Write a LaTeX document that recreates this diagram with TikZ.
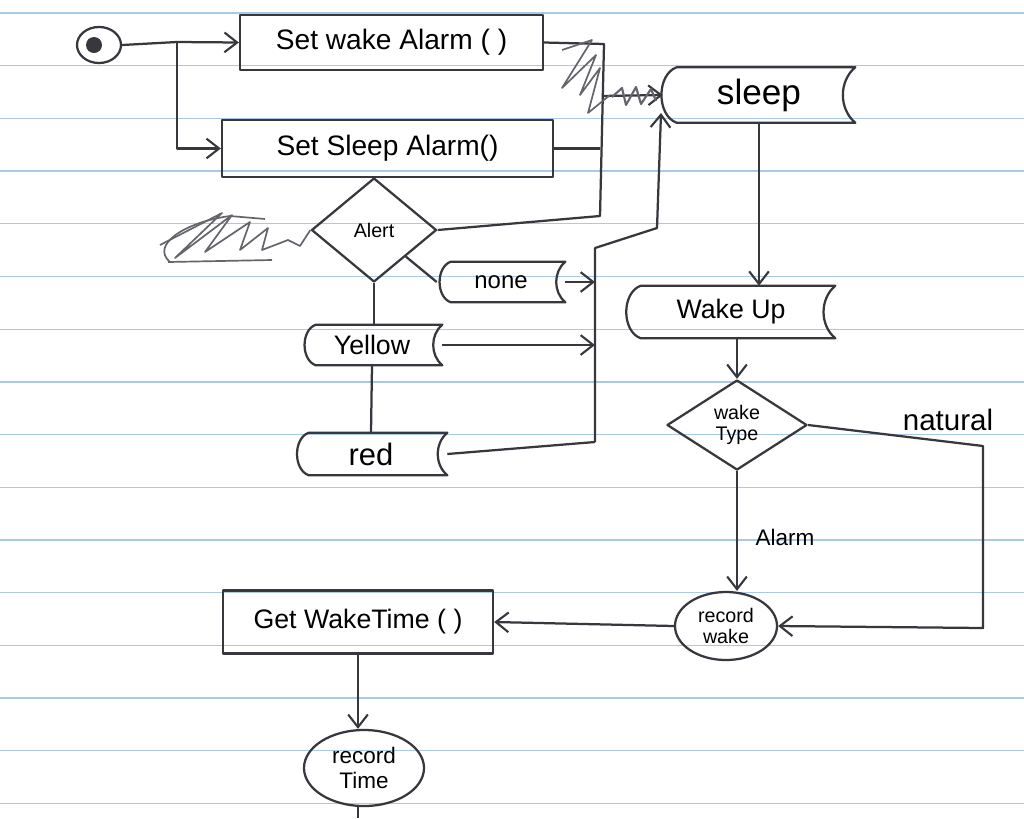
\documentclass[tikz,border=0pt]{standalone}
\usepackage{fontspec}
\setmainfont{Liberation Sans}
\usetikzlibrary{shapes.geometric,arrows.meta}

\definecolor{inkc}{RGB}{55,55,62}
\definecolor{scrawl}{RGB}{100,100,108}
\definecolor{ruled}{RGB}{170,200,232}

\tikzset{
    ink/.style={draw=inkc, line width=1.6pt, line join=round},
    arrow/.style={ink, -{Straight Barb[length=9pt,width=14pt,line width=1.5pt]}},
    procbox/.style={ink, rectangle, inner sep=0pt, font=\fontsize{20}{24}\selectfont},
    banner/.style={inner sep=0pt, text=black, font=\fontsize{19}{22}\selectfont},
    decision/.style={ink, diamond, inner sep=0pt, align=center, font=\fontsize{14}{15}\selectfont},
    bubble/.style={ink, ellipse, inner sep=0pt, align=center, font=\fontsize{14}{15}\selectfont},
    scribble/.style={draw=scrawl, line width=1.2pt, line join=round}
}

\newcommand{\banneroutline}[1]{%
    \draw[ink] ([xshift=0.35cm]#1.north west) -- (#1.north east)
        to[bend right=50] (#1.south east) -- ([xshift=0.35cm]#1.south west)
        to[bend left=70] ([xshift=0.35cm]#1.north west);}

\begin{document}
\begin{tikzpicture}[x=0.025cm, y=-0.025cm]
    \useasboundingbox (0,0) rectangle (1024,818);
    \fill[white] (0,0) rectangle (1024,818);
    \foreach \k [evaluate=\k as \yy using 13+52.7*\k] in {0,...,15}
        \draw[draw=ruled, line width=0.9pt] (0,\yy) -- (1024,\yy);

    \node[ink, ellipse, minimum width=1.1cm, minimum height=0.9cm, inner sep=0pt] (start) at (99,45) {};
    \node[circle, fill=inkc, minimum size=0.4cm, inner sep=0pt] (startdot) at (94,45) {};
    \coordinate (split) at (177,42);

    \node[procbox, minimum width=7.575cm, minimum height=1.375cm] (setwake) at (391.5,42.5) {Set wake Alarm ( )};
    \node[procbox, minimum width=8.275cm, minimum height=1.425cm] (setsleep) at (387.5,148.5) {Set Sleep Alarm()};
    \node[decision, minimum width=3.125cm, minimum height=2.6cm] (alert) at (374,230) {Alert};

    \node[banner, minimum width=3.2cm, minimum height=1cm, font=\fontsize{17}{20}\selectfont] (none) at (501,282) {none};
    \node[banner, minimum width=3.5cm, minimum height=1cm] (yellow) at (372,345) {Yellow};
    \node[banner, minimum width=3.8cm, minimum height=1.05cm, font=\fontsize{22}{24}\selectfont] (red) at (371,454) {red};
    \node[banner, minimum width=4.8cm, minimum height=1.375cm, font=\fontsize{25}{28}\selectfont] (sleep) at (759,95) {sleep};
    \node[banner, minimum width=5.2cm, minimum height=1.3cm] (wakeup) at (731,312) {Wake Up};
    \banneroutline{none}
    \banneroutline{yellow}
    \banneroutline{red}
    \banneroutline{sleep}
    \banneroutline{wakeup}

    \node[decision, minimum width=3.5cm, minimum height=2.25cm] (waketype) at (737,425) {wake\\Type};
    \node[bubble, minimum width=2.55cm, minimum height=1.7cm] (recwake) at (726,626) {record\\wake};
    \node[procbox, minimum width=6.75cm, minimum height=1.575cm, font=\fontsize{19}{22}\selectfont] (getwake) at (358,622) {Get WakeTime ( )};
    \node[bubble, minimum width=3cm, minimum height=1.9cm, font=\fontsize{16}{18}\selectfont] (rectime) at (364,768) {record\\Time};

    \node[font=\fontsize{21}{24}\selectfont] (natlabel) at (948,420) {natural};
    \node[font=\fontsize{16}{18}\selectfont] (alarmlabel) at (785,537) {Alarm};

    \coordinate (bartop) at (604,44);
    \coordinate (barmid) at (602,96);
    \coordinate (barbot) at (600,216);
    \coordinate (bar2top) at (595,248);
    \coordinate (bar2bot) at (595,442);
    \coordinate (knee) at (657,228);
    \coordinate (sleepin) at (661,113);
    \coordinate (natcorner) at (983,446);
    \coordinate (natfoot) at (983,628);
    \coordinate (tailend) at (358,818);

    \draw[ink] (start.east) -- (split);
    \draw[arrow] (split) -- (setwake.west);
    \draw[arrow] (split) |- (setsleep.west);
    \draw[ink] (setwake.east) -- (bartop) -- (barbot) -- (alert.east);
    \draw[ink] (setsleep.east) -- (setsleep.east -| barbot);
    \draw[arrow] (barmid) -- (sleep.west);
    \draw[ink] (setsleep.south -| alert.north) -- (alert.north);
    \draw[ink] (alert.south) -- (yellow.north -| alert.south);
    \draw[ink] (alert.south east) -- (none.west);
    \draw[ink] (yellow.south) -- (red.north);
    \draw[arrow] (none.east) -- (none.east -| bar2top);
    \draw[arrow] (yellow.east) -- (yellow.east -| bar2top);
    \draw[ink] (red.east) -- (bar2bot);
    \draw[arrow] (bar2bot) -- (bar2top) -- (knee) -- (sleepin);

    \draw[arrow] (sleep.south) -- (sleep.south |- wakeup.north);
    \draw[arrow] (wakeup.south -| waketype.north) -- (waketype.north);
    \draw[arrow] (waketype.south) -- (recwake.north -| waketype.south);
    \draw[arrow] (waketype.east) -- (natcorner) -- (natfoot) -- (recwake.east);
    \draw[arrow] (recwake.west) -- (getwake.east);
    \draw[arrow] (getwake.south) -- (getwake.south |- rectime.north);
    \draw[ink] (getwake.south |- rectime.south) -- (tailend);

    % crossed-out bits
    \draw[scribble] (562,50) -- (592,40) -- (562,88) -- (596,55) -- (580,95) -- (600,68) -- (588,113) -- (610,95);
    \draw[scribble, line width=1.5pt] (612,97) -- (622,88) -- (626,105) -- (636,87) -- (641,104) -- (651,89) -- (656,101);
    \draw[scribble] (alert.west) -- (300,246) -- (288,240) -- (262,250) -- (268,228) -- (240,250) -- (250,222) -- (205,252) -- (232,215) -- (175,258) -- (222,213) -- (160,245);
    \draw[scribble] (170,262) .. controls (150,245) and (185,222) .. (230,216) -- (265,219);
    \draw[scribble] (168,262) -- (272,260);
\end{tikzpicture}
\end{document}
